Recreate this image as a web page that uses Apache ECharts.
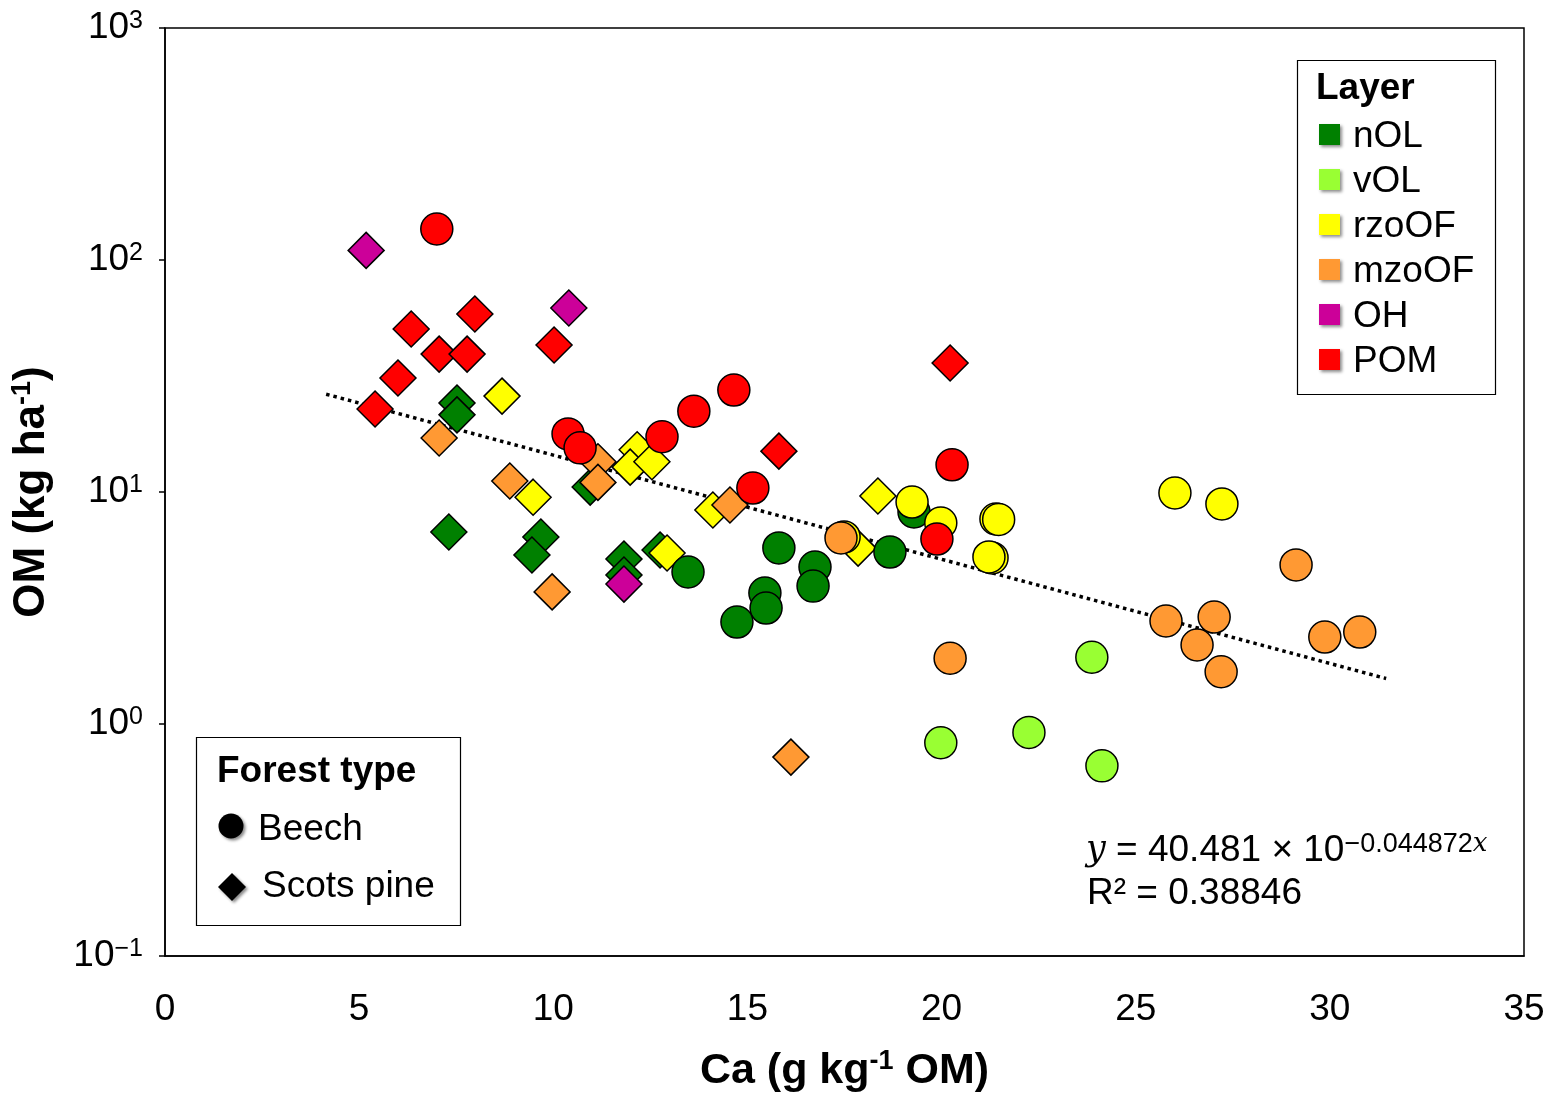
<!DOCTYPE html>
<html><head><meta charset="utf-8">
<script src="https://cdn.jsdelivr.net/npm/echarts@6/dist/echarts.min.js"></script>
<style>html,body{margin:0;padding:0;background:#fff}#c{width:1550px;height:1098px}</style>
</head><body><div id="c"></div>
<script>
// ---- data ----
const layerNames = ['nOL', 'vOL', 'rzoOF', 'mzoOF', 'OH', 'POM'];
const layerColors = ['#008000', '#99ff33', '#ffff00', '#ff9933', '#cc0099', '#ff0000'];
const forestTypes = ['Beech', 'Scots pine'];
const xTickValues = [0, 5, 10, 15, 20, 25, 30, 35];
const yTickExponents = { '1000': '3', '100': '2', '10': '1', '1': '0', '0.1': '−1' };

// Scots pine (diamonds): [Ca, OM]
const pineNOL = [[7.52, 24.2], [7.52, 21.5], [7.31, 6.72], [9.68, 6.40], [9.45, 5.35], [10.95, 10.5], [11.82, 5.14], [11.82, 4.39], [12.75, 5.62]];
const pineVOL = [];
const pineRZOOF = [[8.68, 25.9], [9.48, 9.5], [12.16, 15.2], [11.98, 12.8], [12.54, 13.5], [12.93, 5.46], [14.11, 8.36], [18.36, 9.61], [17.85, 5.73]];
const pineMZOOF = [[7.06, 17.1], [8.88, 11.15], [9.97, 3.71], [11.15, 13.5], [11.15, 11.0], [14.55, 8.79], [16.12, 0.72]];
const pineOH = [[5.18, 110], [10.40, 62.1], [11.82, 4.01]];
const pinePOM = [[6.34, 50.4], [7.98, 58.5], [7.06, 39.3], [7.78, 39.3], [6.00, 31.0], [5.41, 22.8], [10.02, 43.0], [15.81, 15.0], [20.22, 36.0]];

// Beech (circles): [Ca, OM]
const beechNOL = [[13.47, 4.52], [15.81, 5.74], [15.45, 3.67], [15.48, 3.16], [14.73, 2.75], [16.74, 4.75], [16.69, 3.93], [18.67, 5.51], [19.29, 8.20]];
const beechVOL = [[23.87, 1.94], [19.98, 0.83], [22.25, 0.92], [24.13, 0.66]];
const beechRZOOF = [[17.49, 6.40], [19.24, 9.05], [19.98, 7.35], [21.40, 7.65], [21.47, 7.62], [21.30, 5.2], [21.22, 5.25], [26.01, 9.9], [27.22, 8.88]];
const beechMZOOF = [[17.41, 6.34], [20.22, 1.92], [25.78, 2.78], [27.02, 2.89], [26.58, 2.19], [27.20, 1.68], [29.13, 4.85], [29.87, 2.37], [30.77, 2.49]];
const beechOH = [];
const beechPOM = [[7.00, 136], [10.38, 17.8], [10.69, 15.5], [12.80, 17.3], [13.62, 22.3], [14.65, 27.5], [15.14, 10.4], [20.27, 13.1], [19.88, 6.27]];

// trend line endpoints (y = 40.481 × 10^(−0.044872x))
const trendLine = [[4.15, 26.4], [31.45, 1.57]];
const equationText = '40.481 × 10';
const equationExp = '−0.044872';
const r2Text = 'R² = 0.38846';

// ---- chart ----
const FONT = '"Liberation Sans", Arial, sans-serif';
const pineData = [pineNOL, pineVOL, pineRZOOF, pineMZOOF, pineOH, pinePOM];
const beechData = [beechNOL, beechVOL, beechRZOOF, beechMZOOF, beechOH, beechPOM];

const series = [{
  type: 'line', data: trendLine, showSymbol: false, symbol: 'none', z: 1,
  lineStyle: { color: '#000', width: 3.5, type: [3.5, 4] }, silent: true
}];
function addScatter(dataSets, symbol, size, tag) {
  dataSets.forEach((d, i) => {
    if (!d.length) return;
    series.push({
      type: 'scatter', name: tag + ' ' + layerNames[i], data: d, symbol: symbol, symbolSize: size, z: 3,
      itemStyle: { color: layerColors[i], borderColor: '#000', borderWidth: 1.5, opacity: 1 }
    });
  });
}
addScatter(pineData, 'diamond', 36, forestTypes[1]);
addScatter(beechData, 'circle', 32, forestTypes[0]);

const TXT = '37px ' + FONT;
const layerLegend = [];
layerLegend.push({ type: 'rect', shape: { x: 1297.5, y: 60.5, width: 198, height: 334 }, style: { fill: '#fff', stroke: '#000', lineWidth: 1.2 }, z: 10 });
layerLegend.push({ type: 'text', x: 1316, y: 89, style: { text: 'Layer', font: 'bold 37px ' + FONT, fill: '#000', verticalAlign: 'middle' }, z: 11 });
layerNames.forEach((n, i) => {
  const cy = 135 + i * 45;
  layerLegend.push({ type: 'rect', shape: { x: 1319, y: cy - 11, width: 21, height: 21 }, style: { fill: layerColors[i], shadowBlur: 3, shadowOffsetX: 2, shadowOffsetY: 2, shadowColor: 'rgba(0,0,0,0.45)' }, z: 11 });
  layerLegend.push({ type: 'text', x: 1353, y: cy + 2, style: { text: n, font: TXT, fill: '#000', verticalAlign: 'middle' }, z: 11 });
});

const forestLegend = [
  { type: 'rect', shape: { x: 196.5, y: 737.5, width: 264, height: 188 }, style: { fill: '#fff', stroke: '#000', lineWidth: 1.2 }, z: 10 },
  { type: 'text', x: 217, y: 772, style: { text: 'Forest type', font: 'bold 37px ' + FONT, fill: '#000', verticalAlign: 'middle' }, z: 11 },
  { type: 'circle', shape: { cx: 231, cy: 826, r: 12.5 }, style: { fill: '#000', shadowBlur: 3, shadowOffsetX: 2, shadowOffsetY: 2, shadowColor: 'rgba(0,0,0,0.45)' }, z: 11 },
  { type: 'text', x: 258, y: 830, style: { text: forestTypes[0], font: TXT, fill: '#000', verticalAlign: 'middle' }, z: 11 },
  { type: 'polygon', shape: { points: [[232, 873], [246, 887], [232, 901], [218, 887]] }, style: { fill: '#000', shadowBlur: 3, shadowOffsetX: 2, shadowOffsetY: 2, shadowColor: 'rgba(0,0,0,0.45)' }, z: 11 },
  { type: 'text', x: 262, y: 887, style: { text: forestTypes[1], font: TXT, fill: '#000', verticalAlign: 'middle' }, z: 11 }
];

const eqTexts = [
  { type: 'text', x: 1086, y: 851, z: 11, style: {
      text: '{i|y}{t| = ' + equationText + '}{s|' + equationExp + '}{si|x}',
      verticalAlign: 'middle', fill: '#000',
      rich: {
        i: { fontFamily: '"DejaVu Serif", "Liberation Serif", serif', fontStyle: 'italic', fontSize: 35, lineHeight: 40 },
        t: { fontFamily: FONT, fontSize: 37, lineHeight: 40 },
        s: { fontFamily: FONT, fontSize: 27, lineHeight: 24, verticalAlign: 'top' },
        si: { fontFamily: '"DejaVu Serif", "Liberation Serif", serif', fontStyle: 'italic', fontSize: 26, lineHeight: 24, verticalAlign: 'top' }
      } } },
  { type: 'text', x: 1087, y: 894, z: 11, style: { text: r2Text, font: TXT, fill: '#000', verticalAlign: 'middle' } }
];

const option = {
  animation: false,
  backgroundColor: '#fff',
  grid: { left: 165, top: 28, right: 26, bottom: 142, show: true, borderColor: '#000', borderWidth: 1.5, backgroundColor: 'transparent' },
  xAxis: {
    type: 'value', min: xTickValues[0], max: xTickValues[xTickValues.length - 1], interval: 5,
    axisLine: { lineStyle: { color: '#000', width: 1.5 } },
    axisTick: { show: false }, splitLine: { show: false },
    axisLabel: { color: '#000', fontFamily: FONT, fontSize: 37, margin: 35 },
    name: '{b|Ca (g kg}{s|-1}{b| OM)}', nameLocation: 'middle', nameGap: 92,
    nameTextStyle: { rich: {
      b: { fontFamily: FONT, fontWeight: 'bold', fontSize: 43, color: '#000', lineHeight: 46 },
      s: { fontFamily: FONT, fontWeight: 'bold', fontSize: 27, color: '#000', lineHeight: 30, verticalAlign: 'top' }
    } }
  },
  yAxis: {
    type: 'log', logBase: 10, min: 0.1, max: 1000,
    axisLine: { show: true, lineStyle: { color: '#000', width: 1.5 } },
    axisTick: { show: true, inside: false, length: 6, lineStyle: { color: '#000', width: 1.5 } },
    minorTick: { show: false }, splitLine: { show: false },
    axisLabel: {
      margin: 22,
      formatter: function (v) {
        const key = String(Math.round(Math.log10(v)) < 0 ? 0.1 : Math.round(v));
        return '{b|10}{s|' + (yTickExponents[key] || '') + '}';
      },
      rich: {
        b: { fontFamily: FONT, fontSize: 37, color: '#000', lineHeight: 38 },
        s: { fontFamily: FONT, fontSize: 25, color: '#000', lineHeight: 24, verticalAlign: 'top' }
      }
    },
    name: '{b|OM (kg ha}{s|-1}{b|)}', nameLocation: 'middle', nameGap: 110,
    nameTextStyle: { rich: {
      b: { fontFamily: FONT, fontWeight: 'bold', fontSize: 44, color: '#000', lineHeight: 46 },
      s: { fontFamily: FONT, fontWeight: 'bold', fontSize: 27, color: '#000', lineHeight: 30, verticalAlign: 'top' }
    } }
  },
  series: series,
  graphic: layerLegend.concat(forestLegend, eqTexts)
};
const chart = echarts.init(document.getElementById('c'), null, { renderer: 'canvas' });
chart.setOption(option);
</script>
</body></html>
